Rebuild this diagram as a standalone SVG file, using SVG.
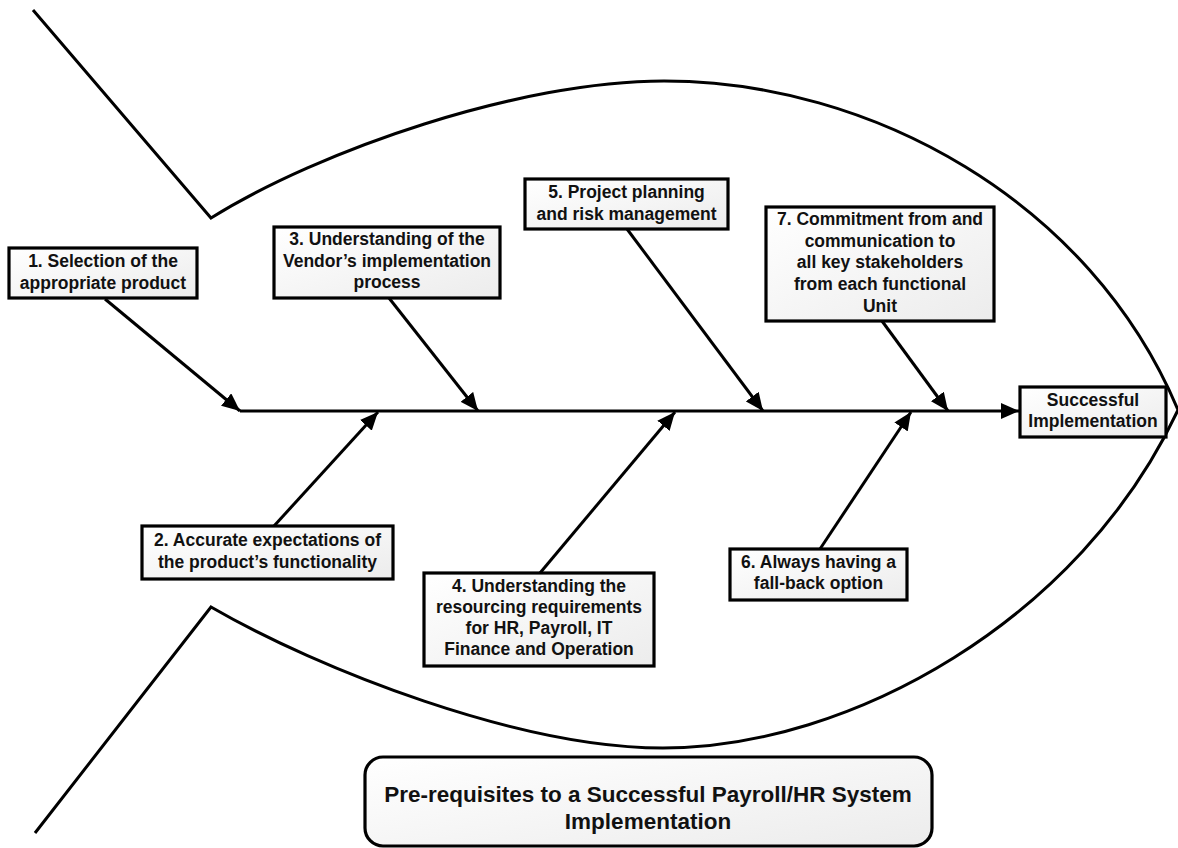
<svg xmlns="http://www.w3.org/2000/svg" width="1178" height="848" viewBox="0 0 1178 848">
<defs>
<linearGradient id="bg" x1="0" y1="0" x2="1" y2="1">
<stop offset="0" stop-color="#ffffff"/>
<stop offset="1" stop-color="#ececec"/>
</linearGradient>
<marker id="arr" markerUnits="userSpaceOnUse" markerWidth="20" markerHeight="16" refX="18" refY="8" orient="auto">
<path d="M0,0 L18,8 L0,16 Z" fill="#000"/>
</marker>
</defs>
<style>
.box{fill:url(#bg);stroke:#000;stroke-width:3.2}
.t{font-family:"Liberation Sans",Arial,sans-serif;font-weight:bold;font-size:17.5px;fill:#111;text-anchor:middle}
.tt{font-family:"Liberation Sans",Arial,sans-serif;font-weight:bold;font-size:22.5px;fill:#111;text-anchor:middle}
.fish{fill:none;stroke:#000;stroke-width:3}
.c{fill:none;stroke:#000;stroke-width:3;marker-end:url(#arr)}
</style>
<g id="fish">
<path class="fish" d="M33,10 L211,218 C320,150 520,81 664,81 C870,81 1090,200 1178,410 C1080,620 850,748 663,748 C520,748 320,670 211,607 L35,833"/>
</g>
<g id="connectors">
<line class="c" x1="240" y1="411" x2="1019" y2="411"/>
<line class="c" x1="105" y1="299" x2="240" y2="411"/>
<line class="c" x1="274" y1="526" x2="378" y2="412"/>
<line class="c" x1="389" y1="298" x2="478" y2="411"/>
<line class="c" x1="540" y1="573" x2="675" y2="412"/>
<line class="c" x1="627" y1="229" x2="763" y2="411"/>
<line class="c" x1="820" y1="549" x2="911" y2="412"/>
<line class="c" x1="882" y1="321" x2="948" y2="411"/>
</g>
<g id="n1">
<rect class="box" x="9" y="248" width="188" height="50"/>
<text class="t" x="103" y="267">1. Selection of the</text>
<text class="t" x="103" y="289">appropriate product</text>
</g>
<g id="n2">
<rect class="box" x="142" y="526" width="251" height="53"/>
<text class="t" x="267.5" y="546">2. Accurate expectations of</text>
<text class="t" x="267.5" y="568">the product’s functionality</text>
</g>
<g id="n3">
<rect class="box" x="274" y="227" width="226" height="71"/>
<text class="t" x="387" y="245">3. Understanding of the</text>
<text class="t" x="387" y="267">Vendor’s implementation</text>
<text class="t" x="387" y="288">process</text>
</g>
<g id="n4">
<rect class="box" x="424" y="573" width="230" height="93"/>
<text class="t" x="539" y="592">4. Understanding the</text>
<text class="t" x="539" y="613">resourcing requirements</text>
<text class="t" x="539" y="634">for HR, Payroll, IT</text>
<text class="t" x="539" y="655">Finance and Operation</text>
</g>
<g id="n5">
<rect class="box" x="525" y="179" width="203" height="50"/>
<text class="t" x="626.5" y="198">5. Project planning</text>
<text class="t" x="626.5" y="220">and risk management</text>
</g>
<g id="n6">
<rect class="box" x="730" y="549" width="177" height="51"/>
<text class="t" x="818.5" y="568">6. Always having a</text>
<text class="t" x="818.5" y="589">fall-back option</text>
</g>
<g id="n7">
<rect class="box" x="766" y="207" width="228" height="114"/>
<text class="t" x="880" y="225">7. Commitment from and</text>
<text class="t" x="880" y="247">communication to</text>
<text class="t" x="880" y="268">all key stakeholders</text>
<text class="t" x="880" y="290">from each functional</text>
<text class="t" x="880" y="312">Unit</text>
</g>
<g id="effect">
<rect class="box" x="1020" y="387" width="146" height="50"/>
<text class="t" x="1093" y="406">Successful</text>
<text class="t" x="1093" y="427">Implementation</text>
</g>
<g id="title">
<rect class="box" x="365" y="757" width="567" height="89" rx="18"/>
<text class="tt" x="648" y="802">Pre-requisites to a Successful Payroll/HR System</text>
<text class="tt" x="648" y="829">Implementation</text>
</g>
</svg>
